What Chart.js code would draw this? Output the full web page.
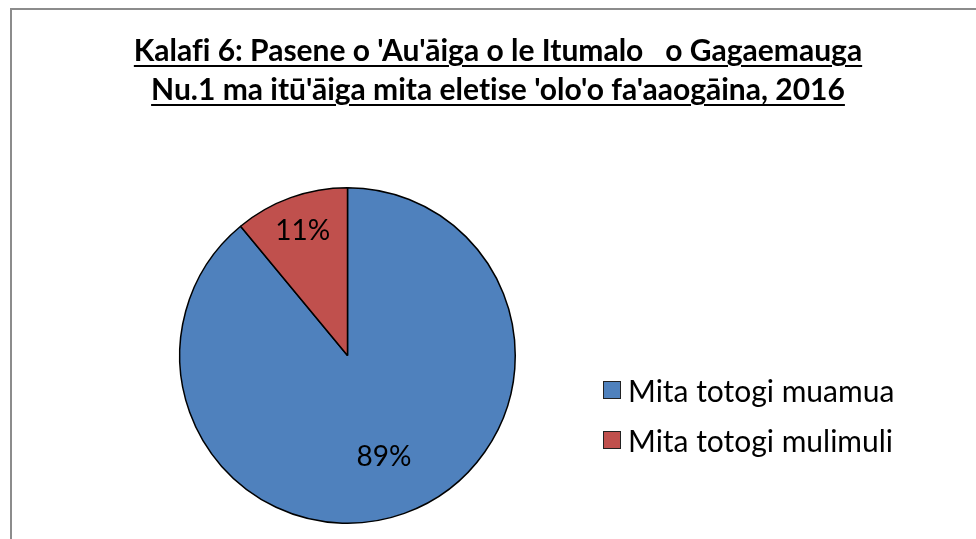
<!DOCTYPE html>
<html lang="sm">
<head>
    <meta charset="UTF-8">
    <title>Kalafi 6</title>
    <script src="https://cdn.jsdelivr.net/npm/chart.js"></script>
    <style>
        html, body {
            margin: 0;
            padding: 0;
            width: 976px;
            height: 539px;
            overflow: hidden;
            background: #fff;
            font-family: Lato, "Noto Sans", sans-serif;
            font-variant-ligatures: none;
        }
        #frame {
            position: absolute;
            left: 10px;
            top: 8px;
            width: 1000px;
            height: 600px;
            border-left: 2px solid #8c8c8c;
            border-top: 2px solid #8c8c8c;
        }
        #title {
            position: absolute;
            left: 0;
            width: 996px;
            top: 30px;
            text-align: center;
            font-weight: bold;
            font-size: 30px;
            line-height: 39px;
            white-space: pre;
            color: #000;
        }
        #title span {
            text-decoration: underline;
            text-underline-offset: 4px;
            text-decoration-thickness: 2px;
        }
        #chart-wrap {
            position: absolute;
            left: 0;
            top: 0;
            width: 976px;
            height: 539px;
        }
        #legend {
            position: absolute;
            left: 603px;
            top: 372px;
            font-size: 30px;
            color: #000;
        }
        .item {
            display: flex;
            align-items: center;
            height: 36px;
            margin-bottom: 14px;
        }
        .box {
            width: 16px;
            height: 16px;
            border: 1px solid #222;
            margin-right: 7px;
        }
    </style>
</head>
<body>
    <div id="frame"></div>
    <div id="chart-wrap">
        <canvas id="pieChart"></canvas>
    </div>
    <div id="title"><span>Kalafi 6: Pasene o 'Au'āiga o le Itumalo   o Gagaemauga</span><br><span>Nu.1 ma itū'āiga mita eletise 'olo'o fa'aaogāina, 2016</span></div>
    <div id="legend"></div>

    <script>
        const categories = ['Mita totogi muamua', 'Mita totogi mulimuli'];
        const percentValues = [89, 11];
        const sliceColors = ['#4F81BD', '#C0504D'];

        // labels sit at different depths in the slices, like the original
        const labelDepth = [0.64, 0.79];

        const sliceLabels = {
            id: 'sliceLabels',
            afterDatasetsDraw(chart) {
                const ctx = chart.ctx;
                const meta = chart.getDatasetMeta(0);
                ctx.save();
                ctx.font = '28px Lato, "Noto Sans", sans-serif';
                ctx.fillStyle = '#000';
                ctx.textAlign = 'center';
                ctx.textBaseline = 'middle';
                meta.data.forEach((arc, i) => {
                    const mid = (arc.startAngle + arc.endAngle) / 2;
                    const r = arc.outerRadius * labelDepth[i];
                    const x = arc.x + Math.cos(mid) * r;
                    const y = arc.y + Math.sin(mid) * r;
                    ctx.fillText(percentValues[i] + '%', x, y);
                });
                ctx.restore();
            }
        };

        const ctx = document.getElementById('pieChart').getContext('2d');
        const pieChart = new Chart(ctx, {
            type: 'pie',
            data: {
                labels: categories,
                datasets: [{
                    data: percentValues,
                    backgroundColor: sliceColors,
                    borderColor: '#000',
                    borderWidth: 1.5
                }]
            },
            options: {
                responsive: true,
                maintainAspectRatio: false,
                animation: false,
                layout: {
                    padding: { left: 179, top: 187, right: 460, bottom: 15 }
                },
                plugins: {
                    legend: { display: false },
                    tooltip: { enabled: false },
                    title: { display: false }
                }
            },
            plugins: [sliceLabels]
        });

        // legend built from the same arrays
        const legend = document.getElementById('legend');
        categories.forEach((name, i) => {
            const item = document.createElement('div');
            item.className = 'item';
            const box = document.createElement('div');
            box.className = 'box';
            box.style.background = sliceColors[i];
            const txt = document.createElement('span');
            txt.textContent = name;
            item.appendChild(box);
            item.appendChild(txt);
            legend.appendChild(item);
        });
    </script>
</body>
</html>
